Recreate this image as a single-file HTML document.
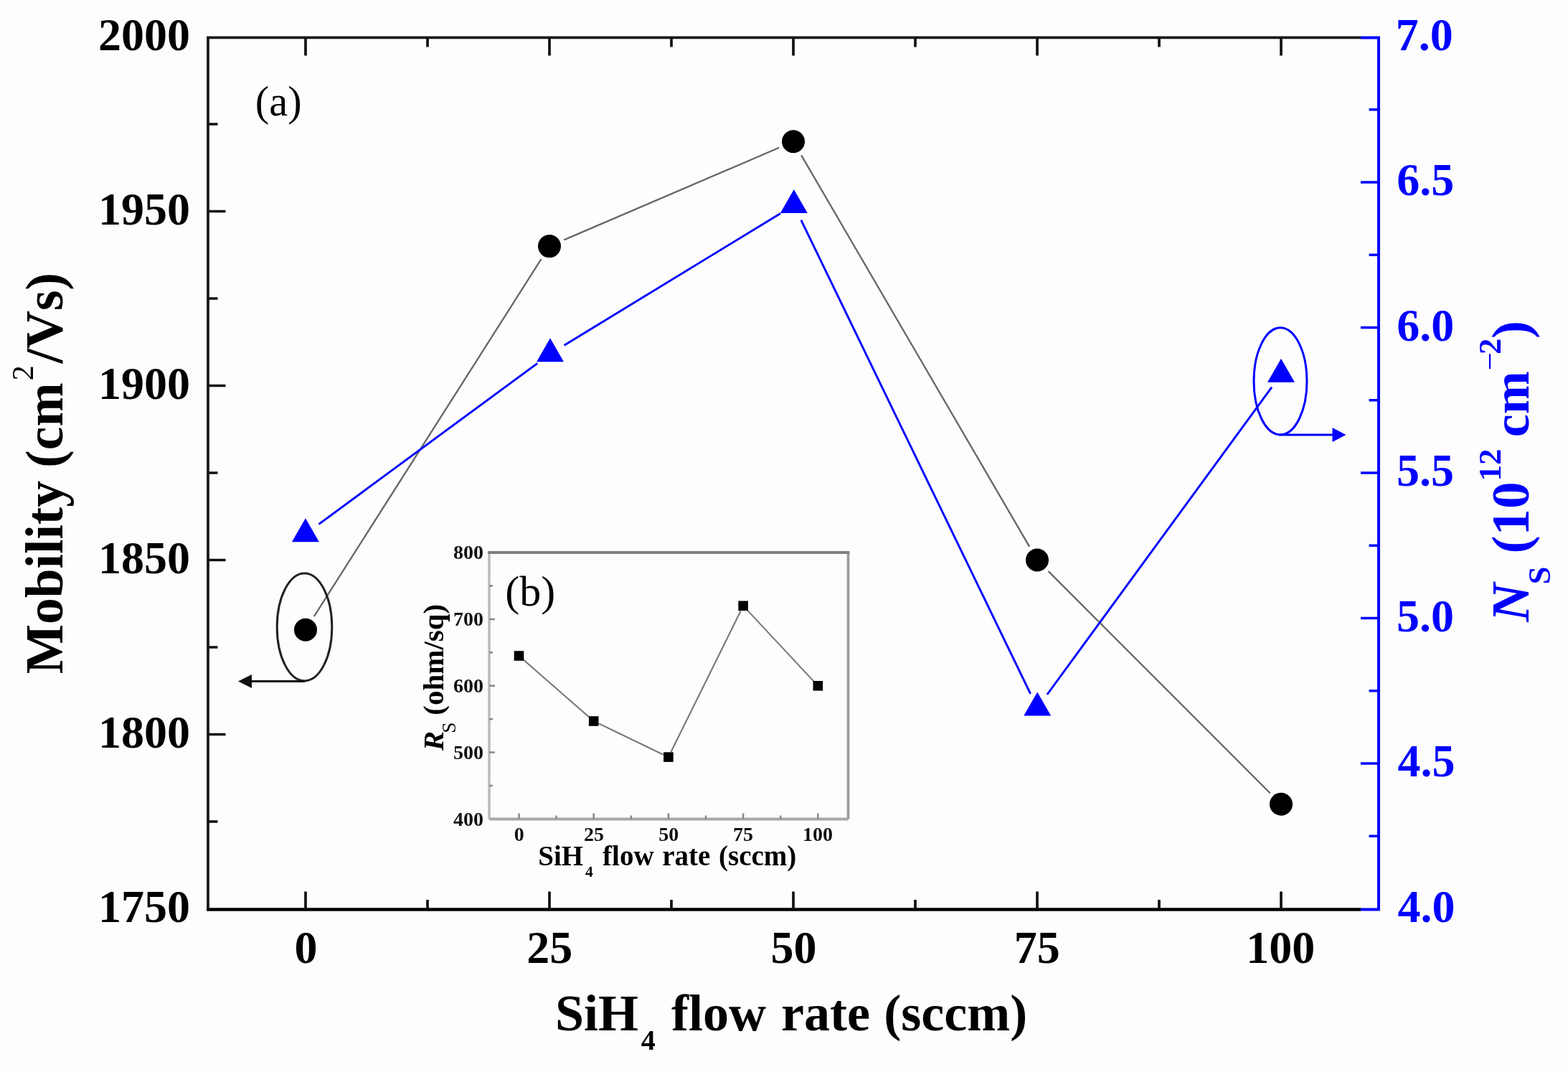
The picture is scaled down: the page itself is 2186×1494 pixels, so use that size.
<!DOCTYPE html>
<html><head><meta charset="utf-8"><title>Mobility and sheet carrier density vs SiH4 flow rate</title>
<style>html,body{margin:0;padding:0;background:#fdfdfd;}body{width:2186px;height:1494px;overflow:hidden;}svg{display:block;}</style>
</head><body>
<svg width="2186" height="1494" viewBox="0 0 2186 1494">
<rect x="0" y="0" width="2186" height="1494" fill="#fdfdfd"/>
<line x1="437.8" y1="859.1" x2="754.5" y2="361.2" stroke="#666" stroke-width="2.3"/>
<line x1="786.2" y1="334.4" x2="1086.2" y2="205.8" stroke="#666" stroke-width="2.3"/>
<line x1="1117.1" y1="216.3" x2="1435.2" y2="761.9" stroke="#666" stroke-width="2.3"/>
<line x1="1461.6" y1="796.1" x2="1770.8" y2="1105.5" stroke="#666" stroke-width="2.3"/>
<line x1="444.4" y1="730.6" x2="749.3" y2="506.3" stroke="#0000ff" stroke-width="2.9"/>
<line x1="786.6" y1="481.3" x2="1088.0" y2="297.4" stroke="#0000ff" stroke-width="2.9"/>
<line x1="1116.8" y1="306.6" x2="1436.6" y2="966.8" stroke="#0000ff" stroke-width="2.9"/>
<line x1="1459.8" y1="968.0" x2="1773.0" y2="539.6" stroke="#0000ff" stroke-width="2.9"/>
<path d="M1897,52.4H290.0V1267.5" stroke="#1a1a1a" stroke-width="3.8" fill="none"/>
<path d="M288.1,1267.5H1897" stroke="#000" stroke-width="4.6" fill="none"/>
<path d="M1897,52.4H1922.0V1267.5H1897" stroke="#0000ff" stroke-width="4" fill="none"/>
<path d="M426.0,1267.5V1242.5M426.0,52.4V77.4M596.0,1267.5V1254.0M596.0,52.4V65.4M766.0,1267.5V1242.5M766.0,52.4V77.4M936.0,1267.5V1254.0M936.0,52.4V65.4M1106.0,1267.5V1242.5M1106.0,52.4V77.4M1276.0,1267.5V1254.0M1276.0,52.4V65.4M1446.0,1267.5V1242.5M1446.0,52.4V77.4M1616.0,1267.5V1254.0M1616.0,52.4V65.4M1786.0,1267.5V1242.5M1786.0,52.4V77.4M290.0,173.0H303.5M290.0,294.5H314.5M290.0,416.0H303.5M290.0,537.5H314.5M290.0,659.0H303.5M290.0,780.5H314.5M290.0,902.0H303.5M290.0,1023.5H314.5M290.0,1145.0H303.5" stroke="#111" stroke-width="3.7" fill="none"/>
<path d="M1922.0,152.8H1908.6M1922.0,254.0H1897.0M1922.0,355.2H1908.6M1922.0,456.5H1897.0M1922.0,557.8H1908.6M1922.0,659.0H1897.0M1922.0,760.2H1908.6M1922.0,861.5H1897.0M1922.0,962.8H1908.6M1922.0,1064.0H1897.0M1922.0,1165.2H1908.6" stroke="#0000ff" stroke-width="3.6" fill="none"/>
<text x="137.04" y="70.00" font-family="'Liberation Serif', 'Times New Roman', serif" font-weight="bold" font-style="normal" font-size="64" fill="#000">2000</text>
<text x="137.04" y="313.00" font-family="'Liberation Serif', 'Times New Roman', serif" font-weight="bold" font-style="normal" font-size="64" fill="#000">1950</text>
<text x="137.04" y="556.00" font-family="'Liberation Serif', 'Times New Roman', serif" font-weight="bold" font-style="normal" font-size="64" fill="#000">1900</text>
<text x="137.04" y="799.00" font-family="'Liberation Serif', 'Times New Roman', serif" font-weight="bold" font-style="normal" font-size="64" fill="#000">1850</text>
<text x="137.04" y="1042.00" font-family="'Liberation Serif', 'Times New Roman', serif" font-weight="bold" font-style="normal" font-size="64" fill="#000">1800</text>
<text x="137.04" y="1285.00" font-family="'Liberation Serif', 'Times New Roman', serif" font-weight="bold" font-style="normal" font-size="64" fill="#000">1750</text>
<text x="1945.84" y="69.90" font-family="'Liberation Serif', 'Times New Roman', serif" font-weight="bold" font-style="normal" font-size="64" fill="#0000ff">7.0</text>
<text x="1947.31" y="272.40" font-family="'Liberation Serif', 'Times New Roman', serif" font-weight="bold" font-style="normal" font-size="64" fill="#0000ff">6.5</text>
<text x="1947.31" y="474.90" font-family="'Liberation Serif', 'Times New Roman', serif" font-weight="bold" font-style="normal" font-size="64" fill="#0000ff">6.0</text>
<text x="1946.94" y="677.40" font-family="'Liberation Serif', 'Times New Roman', serif" font-weight="bold" font-style="normal" font-size="64" fill="#0000ff">5.5</text>
<text x="1946.94" y="879.90" font-family="'Liberation Serif', 'Times New Roman', serif" font-weight="bold" font-style="normal" font-size="64" fill="#0000ff">5.0</text>
<text x="1948.62" y="1082.40" font-family="'Liberation Serif', 'Times New Roman', serif" font-weight="bold" font-style="normal" font-size="64" fill="#0000ff">4.5</text>
<text x="1948.62" y="1284.90" font-family="'Liberation Serif', 'Times New Roman', serif" font-weight="bold" font-style="normal" font-size="64" fill="#0000ff">4.0</text>
<text x="410.50" y="1342.30" font-family="'Liberation Serif', 'Times New Roman', serif" font-weight="bold" font-style="normal" font-size="64" fill="#000">0</text>
<text x="734.33" y="1342.30" font-family="'Liberation Serif', 'Times New Roman', serif" font-weight="bold" font-style="normal" font-size="64" fill="#000">25</text>
<text x="1074.44" y="1342.30" font-family="'Liberation Serif', 'Times New Roman', serif" font-weight="bold" font-style="normal" font-size="64" fill="#000">50</text>
<text x="1413.84" y="1342.30" font-family="'Liberation Serif', 'Times New Roman', serif" font-weight="bold" font-style="normal" font-size="64" fill="#000">75</text>
<text x="1737.16" y="1342.30" font-family="'Liberation Serif', 'Times New Roman', serif" font-weight="bold" font-style="normal" font-size="64" fill="#000">100</text>
<text x="773.97" y="1435.50" font-family="'Liberation Serif', 'Times New Roman', serif" font-weight="bold" font-style="normal" font-size="72" fill="#000">SiH</text>
<text x="893.65" y="1463.00" font-family="'Liberation Serif', 'Times New Roman', serif" font-weight="bold" font-style="normal" font-size="40" fill="#000">4</text>
<text x="935.97" y="1435.50" font-family="'Liberation Serif', 'Times New Roman', serif" font-weight="bold" font-style="normal" font-size="72" fill="#000">flow</text>
<text x="1089.07" y="1435.50" font-family="'Liberation Serif', 'Times New Roman', serif" font-weight="bold" font-style="normal" font-size="72" fill="#000">rate</text>
<text x="1232.34" y="1435.50" font-family="'Liberation Serif', 'Times New Roman', serif" font-weight="bold" font-style="normal" font-size="72" fill="#000">(sccm)</text>
<g transform="translate(87.2,938.0) rotate(-90)">
<text x="-1.26" y="0.00" font-family="'Liberation Serif', 'Times New Roman', serif" font-weight="bold" font-style="normal" font-size="73.45" fill="#000">Mobility (cm</text>
<text x="407.65" y="-41.50" font-family="'Liberation Serif', 'Times New Roman', serif" font-weight="normal" font-style="normal" font-size="42" fill="#000">2</text>
<text x="431.52" y="0.00" font-family="'Liberation Serif', 'Times New Roman', serif" font-weight="bold" font-style="normal" font-size="73.45" fill="#000">/Vs)</text>
</g>
<g transform="translate(2131.0,867.5) rotate(-90)">
<text x="0.70" y="0.00" font-family="'Liberation Serif', 'Times New Roman', serif" font-weight="bold" font-style="italic" font-size="75" fill="#0000ff">N</text>
<text x="53.10" y="29.50" font-family="'Liberation Serif', 'Times New Roman', serif" font-weight="bold" font-style="normal" font-size="45" fill="#0000ff">S</text>
<text x="96.00" y="0.00" font-family="'Liberation Serif', 'Times New Roman', serif" font-weight="bold" font-style="normal" font-size="75" fill="#0000ff">(10</text>
<text x="196.90" y="-39.30" font-family="'Liberation Serif', 'Times New Roman', serif" font-weight="bold" font-style="normal" font-size="45" fill="#0000ff">12</text>
<text x="258.24" y="0.00" font-family="'Liberation Serif', 'Times New Roman', serif" font-weight="bold" font-style="normal" font-size="72" fill="#0000ff">cm</text>
<text x="351.26" y="-39.30" font-family="'Liberation Serif', 'Times New Roman', serif" font-weight="normal" font-style="normal" font-size="45" fill="#0000ff">−</text>
<text x="373.41" y="-39.30" font-family="'Liberation Serif', 'Times New Roman', serif" font-weight="bold" font-style="normal" font-size="45" fill="#0000ff">2</text>
<text x="395.48" y="0.00" font-family="'Liberation Serif', 'Times New Roman', serif" font-weight="bold" font-style="normal" font-size="75" fill="#0000ff">)</text>
</g>
<text x="355.73" y="160.50" font-family="'Liberation Serif', 'Times New Roman', serif" font-weight="normal" font-style="normal" font-size="58.5" fill="#000">(a)</text>
<circle cx="426.0" cy="877.7" r="16" fill="#000"/>
<circle cx="766.0" cy="343.1" r="16" fill="#000"/>
<circle cx="1106.0" cy="197.3" r="16" fill="#000"/>
<circle cx="1446.0" cy="780.5" r="16" fill="#000"/>
<circle cx="1786.0" cy="1120.7" r="16" fill="#000"/>
<path d="M425.9,722.2L444.9,755.2L406.9,755.2Z" fill="#0000ff"/>
<path d="M767.0,471.3L786.0,504.3L748.0,504.3Z" fill="#0000ff"/>
<path d="M1106.8,263.9L1125.8,296.9L1087.8,296.9Z" fill="#0000ff"/>
<path d="M1446.2,964.6L1465.2,997.6L1427.2,997.6Z" fill="#0000ff"/>
<path d="M1786.0,499.8L1805.0,532.8L1767.0,532.8Z" fill="#0000ff"/>
<ellipse cx="424.5" cy="873.9" rx="38.3" ry="75" fill="none" stroke="#222" stroke-width="3"/>
<path d="M425,949.5H348" stroke="#111" stroke-width="3" fill="none"/>
<path d="M332,949.5L351,940L351,959Z" fill="#111"/>
<ellipse cx="1785" cy="531.3" rx="37" ry="74.5" fill="none" stroke="#0000ff" stroke-width="3"/>
<path d="M1783,606H1860" stroke="#0000ff" stroke-width="3" fill="none"/>
<path d="M1876.5,606L1857.5,596L1857.5,616Z" fill="#0000ff"/>
<path d="M682.0,1141.5V770.0" stroke="#bdbdbd" stroke-width="3.6" fill="none"/>
<path d="M682.0,1141.5H1182.5" stroke="#a8a8a8" stroke-width="3.8" fill="none"/>
<path d="M1182.5,770.0V1141.5" stroke="#9a9a9a" stroke-width="3.6" fill="none"/>
<path d="M680.2,770.0H1184.3" stroke="#808080" stroke-width="3.8" fill="none"/>
<path d="M723.5,1141.5V1133.5M775.6,1141.5V1136.5M827.7,1141.5V1133.5M879.8,1141.5V1136.5M931.9,1141.5V1133.5M984.0,1141.5V1136.5M1036.1,1141.5V1133.5M1088.2,1141.5V1136.5M1140.3,1141.5V1133.5M682.0,816.4H687.0M682.0,862.9H690.0M682.0,909.3H687.0M682.0,955.8H690.0M682.0,1002.2H687.0M682.0,1048.6H690.0M682.0,1095.1H687.0" stroke="#888" stroke-width="2.5" fill="none"/>
<line x1="729.5" y1="919.2" x2="821.7" y2="999.7" stroke="#777" stroke-width="2.1"/>
<line x1="834.9" y1="1008.4" x2="924.7" y2="1051.7" stroke="#777" stroke-width="2.1"/>
<line x1="935.4" y1="1048.0" x2="1032.6" y2="851.5" stroke="#777" stroke-width="2.1"/>
<line x1="1041.6" y1="850.1" x2="1134.8" y2="949.9" stroke="#777" stroke-width="2.1"/>
<rect x="716.7" y="907.2" width="13.6" height="13.6" fill="#000"/>
<rect x="820.9" y="998.2" width="13.6" height="13.6" fill="#000"/>
<rect x="925.1" y="1048.3" width="13.6" height="13.6" fill="#000"/>
<rect x="1029.3" y="837.5" width="13.6" height="13.6" fill="#000"/>
<rect x="1133.5" y="949.0" width="13.6" height="13.6" fill="#000"/>
<text x="632.07" y="779.30" font-family="'Liberation Serif', 'Times New Roman', serif" font-weight="bold" font-style="normal" font-size="28" fill="#111">800</text>
<text x="632.07" y="872.17" font-family="'Liberation Serif', 'Times New Roman', serif" font-weight="bold" font-style="normal" font-size="28" fill="#111">700</text>
<text x="632.07" y="965.05" font-family="'Liberation Serif', 'Times New Roman', serif" font-weight="bold" font-style="normal" font-size="28" fill="#111">600</text>
<text x="632.07" y="1057.92" font-family="'Liberation Serif', 'Times New Roman', serif" font-weight="bold" font-style="normal" font-size="28" fill="#111">500</text>
<text x="632.07" y="1150.80" font-family="'Liberation Serif', 'Times New Roman', serif" font-weight="bold" font-style="normal" font-size="28" fill="#111">400</text>
<text x="716.80" y="1172.30" font-family="'Liberation Serif', 'Times New Roman', serif" font-weight="bold" font-style="normal" font-size="28" fill="#111">0</text>
<text x="813.92" y="1172.30" font-family="'Liberation Serif', 'Times New Roman', serif" font-weight="bold" font-style="normal" font-size="28" fill="#111">25</text>
<text x="918.17" y="1172.30" font-family="'Liberation Serif', 'Times New Roman', serif" font-weight="bold" font-style="normal" font-size="28" fill="#111">50</text>
<text x="1022.11" y="1172.30" font-family="'Liberation Serif', 'Times New Roman', serif" font-weight="bold" font-style="normal" font-size="28" fill="#111">75</text>
<text x="1119.01" y="1172.30" font-family="'Liberation Serif', 'Times New Roman', serif" font-weight="bold" font-style="normal" font-size="28" fill="#111">100</text>
<text x="750.22" y="1206.20" font-family="'Liberation Serif', 'Times New Roman', serif" font-weight="bold" font-style="normal" font-size="39" fill="#000">SiH</text>
<text x="816.01" y="1221.80" font-family="'Liberation Serif', 'Times New Roman', serif" font-weight="bold" font-style="normal" font-size="21.5" fill="#000">4</text>
<text x="840.11" y="1206.20" font-family="'Liberation Serif', 'Times New Roman', serif" font-weight="bold" font-style="normal" font-size="39" fill="#000">flow</text>
<text x="923.25" y="1206.20" font-family="'Liberation Serif', 'Times New Roman', serif" font-weight="bold" font-style="normal" font-size="39" fill="#000">rate</text>
<text x="1001.99" y="1206.20" font-family="'Liberation Serif', 'Times New Roman', serif" font-weight="bold" font-style="normal" font-size="39" fill="#000">(sccm)</text>
<g transform="translate(618.0,1046.3) rotate(-90)">
<text x="0.06" y="0.00" font-family="'Liberation Serif', 'Times New Roman', serif" font-weight="bold" font-style="italic" font-size="41" fill="#000">R</text>
<text x="24.66" y="17.00" font-family="'Liberation Serif', 'Times New Roman', serif" font-weight="normal" font-style="normal" font-size="27.5" fill="#000">S</text>
<text x="49.60" y="0.00" font-family="'Liberation Serif', 'Times New Roman', serif" font-weight="bold" font-style="normal" font-size="41" fill="#000">(ohm/sq)</text>
</g>
<text x="704.36" y="843.80" font-family="'Liberation Serif', 'Times New Roman', serif" font-weight="normal" font-style="normal" font-size="60" fill="#000">(b)</text>
</svg>
</body></html>
